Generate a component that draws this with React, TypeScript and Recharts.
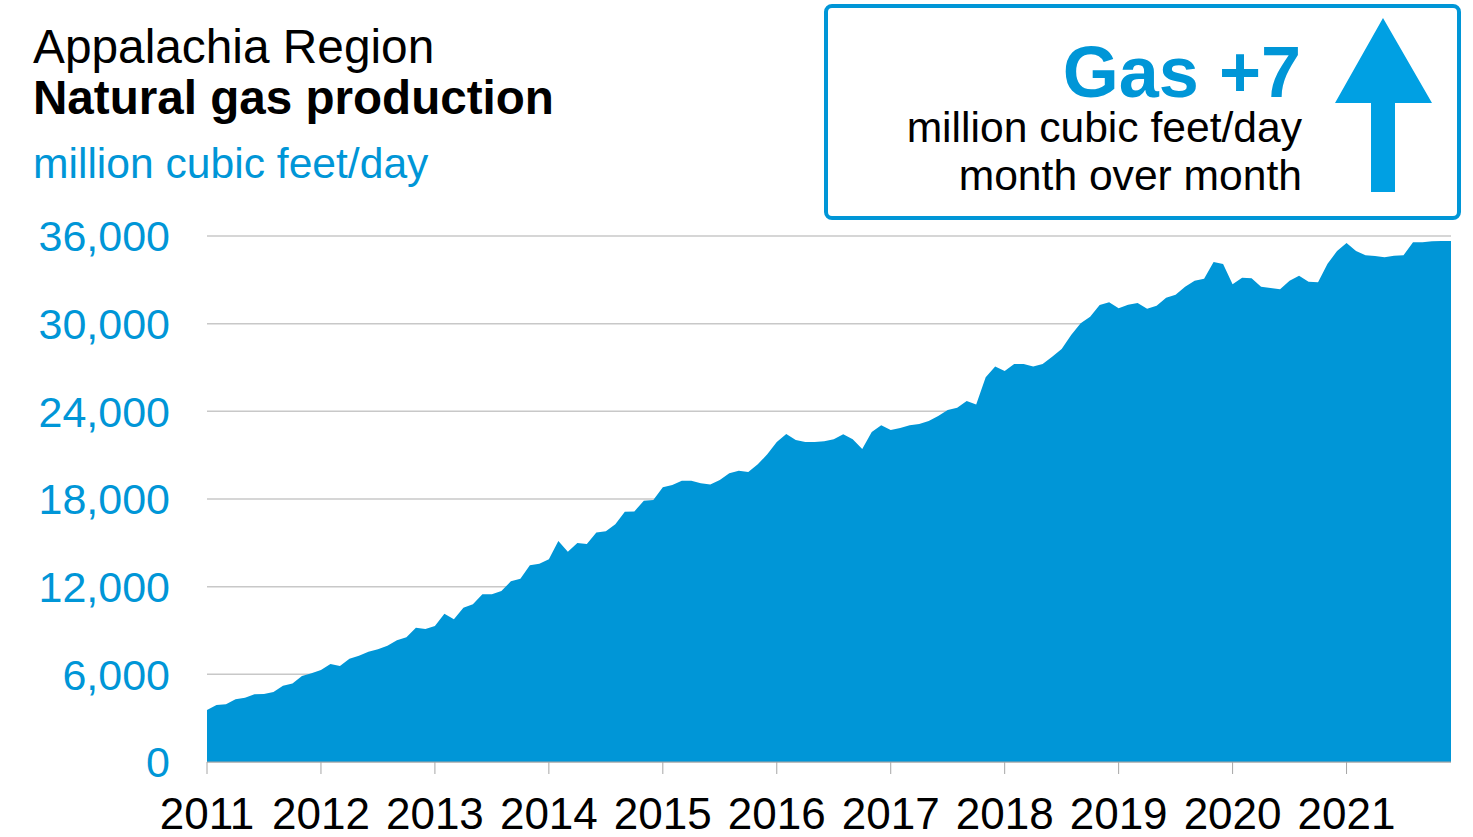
import { AreaChart, Area, XAxis, YAxis, CartesianGrid } from "recharts";

// monthly production, million cubic feet/day
const years = ["2011", "2012", "2013", "2014", "2015", "2016", "2017", "2018", "2019", "2020", "2021"];
const gas2011 = [3560, 3900, 3950, 4300, 4400, 4630, 4650, 4790, 5220, 5380, 5890, 6070];
const gas2012 = [6300, 6710, 6570, 7070, 7280, 7550, 7710, 7960, 8330, 8530, 9190, 9100];
const gas2013 = [9310, 10150, 9770, 10560, 10790, 11480, 11480, 11700, 12370, 12550, 13460, 13570];
const gas2014 = [13870, 15120, 14390, 14990, 14920, 15700, 15790, 16270, 17130, 17150, 17880, 17930];
const gas2015 = [18800, 18960, 19250, 19250, 19070, 19000, 19300, 19760, 19940, 19850, 20370, 21060];
const gas2016 = [21900, 22450, 22040, 21900, 21900, 21950, 22090, 22430, 22090, 21420, 22590, 23040];
const gas2017 = [22720, 22860, 23040, 23130, 23340, 23680, 24090, 24250, 24710, 24460, 26330, 27060];
const gas2018 = [26760, 27240, 27240, 27060, 27240, 27740, 28270, 29220, 30020, 30480, 31280, 31460];
const gas2019 = [31050, 31300, 31410, 31020, 31230, 31780, 31980, 32530, 32940, 33080, 34220, 34080];
const gas2020 = [32690, 33150, 33100, 32530, 32440, 32350, 32940, 33280, 32870, 32830, 34100, 34970];
const gas2021 = [35520, 34970, 34680, 34630, 34540, 34650, 34680, 35570, 35570, 35640, 35660, 35660];
const yTicks = [0, 6000, 12000, 18000, 24000, 30000, 36000];

const monthly = [
  gas2011, gas2012, gas2013, gas2014, gas2015, gas2016,
  gas2017, gas2018, gas2019, gas2020, gas2021,
].flat();
const data = monthly.map((v, i) => ({ idx: i, gas: v }));
const yearTicks = years.map((_, i) => i * 12);

const BLUE = "#0096d7";

export default function App() {
  return (
    <div
      style={{
        position: "absolute",
        left: 0,
        top: 0,
        width: 1473,
        height: 837,
        background: "#fff",
        fontFamily: "'Liberation Sans', Arial, sans-serif",
      }}
    >
      <AreaChart
        width={1473}
        height={837}
        data={data}
        margin={{ top: 236, right: 22, left: 0, bottom: 0 }}
      >
        <CartesianGrid vertical={false} stroke="#c8c8c8" strokeWidth={1.5} />
        <XAxis
          dataKey="idx"
          type="number"
          domain={[0, 131]}
          ticks={yearTicks}
          interval={0}
          tickFormatter={(v: number) => years[v / 12]}
          height={75}
          tickSize={12}
          tickMargin={24}
          stroke="#a6a6a6"
          tick={{ fill: "#000", fontSize: 44 }}
        />
        <YAxis
          type="number"
          domain={[0, 36000]}
          ticks={yTicks}
          interval={0}
          width={207}
          axisLine={false}
          tickLine={false}
          tickMargin={31}
          tickFormatter={(v: number) => v.toLocaleString("en-US")}
          tick={{ fill: BLUE, fontSize: 43 }}
        />
        <Area
          type="linear"
          dataKey="gas"
          fill={BLUE}
          fillOpacity={1}
          stroke="none"
          dot={false}
          activeDot={false}
          isAnimationActive={false}
        />
      </AreaChart>
      <svg
        width={1473}
        height={230}
        style={{ position: "absolute", left: 0, top: 0 }}
      >
        <text x={33} y={63} fontSize={47.8} fill="#000">Appalachia Region</text>
        <text x={33} y={114} fontSize={47.6} fontWeight="bold" fill="#000">Natural gas production</text>
        <text x={33} y={178} fontSize={42.6} fill={BLUE}>million cubic feet/day</text>

        <rect x={826} y={6} width={633} height={212} rx={6} fill="#fff" stroke={BLUE} strokeWidth={4} />
        <text x={1301} y={97} fontSize={72} fontWeight="bold" fill={BLUE} textAnchor="end">Gas +7</text>
        <text x={1302} y={142} fontSize={42.6} fill="#000" textAnchor="end">million cubic feet/day</text>
        <text x={1302} y={190} fontSize={42.6} fill="#000" textAnchor="end">month over month</text>
        <polygon
          points="1383,18 1432,103 1395,103 1395,192 1371,192 1371,103 1335,103"
          fill="#00a0e3"
        />
      </svg>
    </div>
  );
}
